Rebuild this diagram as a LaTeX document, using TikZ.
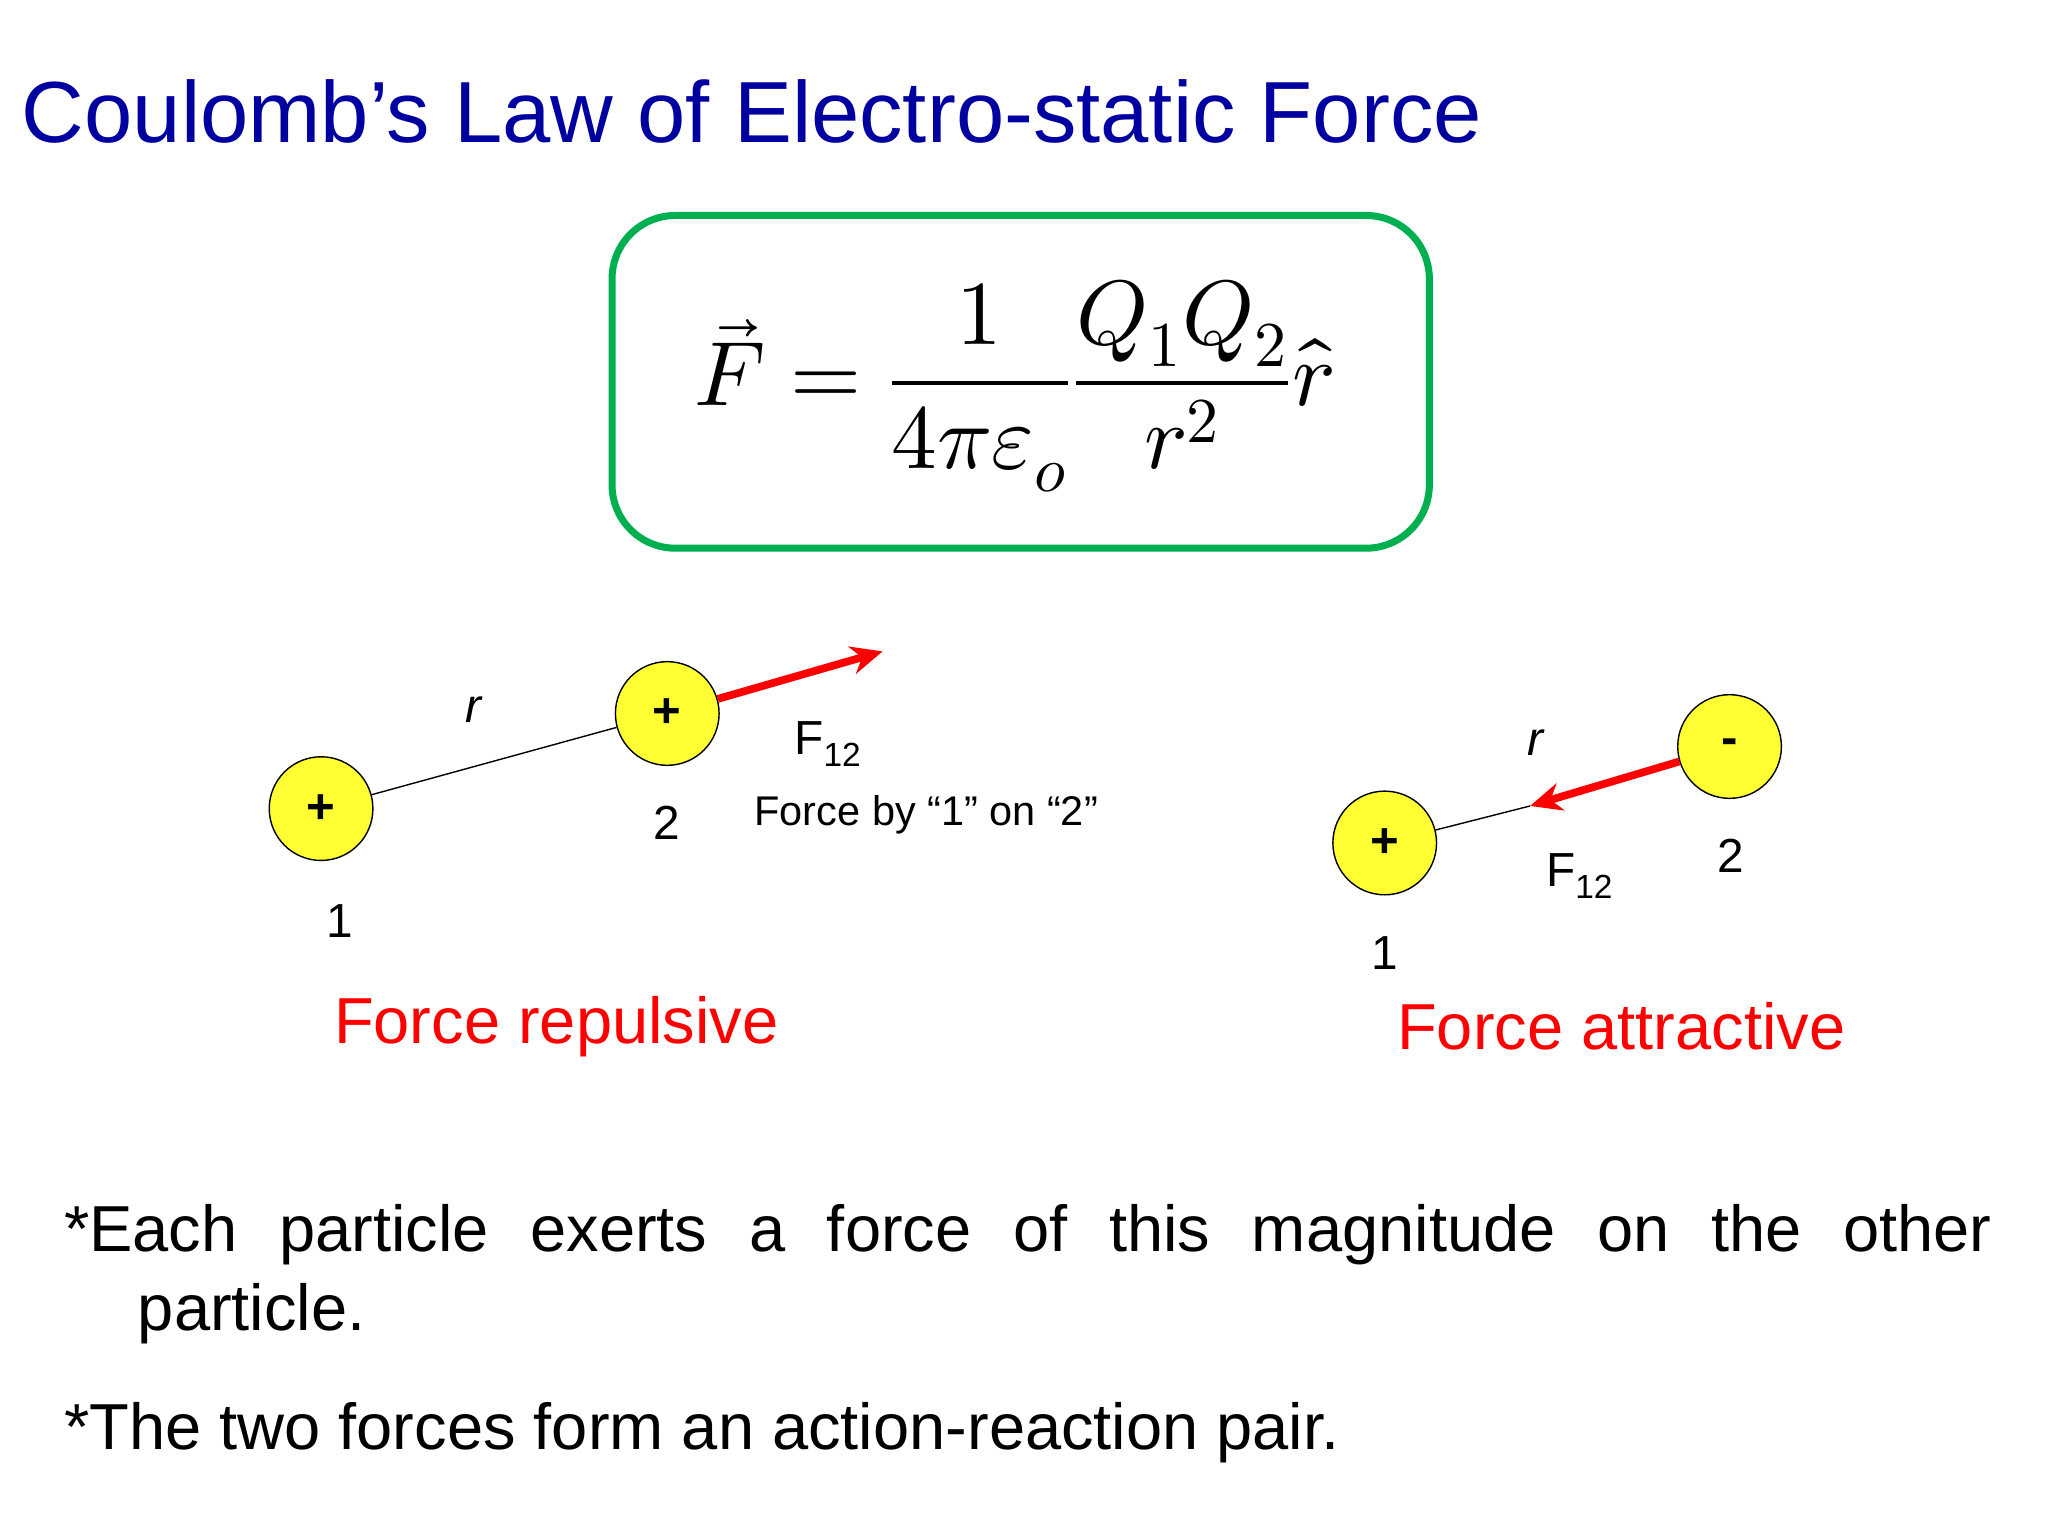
\documentclass[tikz,border=0pt]{standalone}
\usetikzlibrary{arrows.meta}
\usepackage{fontspec}
\setmainfont{Liberation Sans}
\usepackage{unicode-math}
\setmathfont{Latin Modern Math}
\definecolor{ttl}{RGB}{0,0,160}
\definecolor{grn}{RGB}{0,176,80}
\definecolor{yel}{RGB}{255,255,51}
\tikzset{
 chg/.style={circle,draw=black,fill=yel,minimum size=29.5pt,inner sep=0pt,font=\fontsize{14}{14}\selectfont\bfseries},
 lbl/.style={font=\fontsize{13.6}{14}\selectfont,inner sep=0pt},
 redtxt/.style={text=red,font=\fontsize{18.5}{20}\selectfont,inner sep=0pt},
 farrow/.style={red,line width=2.2pt,-{Stealth[length=9pt,width=8pt]}}
}
\begin{document}
\begin{tikzpicture}[x=0.01321cm,y=-0.01321cm]
\useasboundingbox (0,0) rectangle (1550,1162.7);
\node[anchor=base west,text=ttl,font=\fontsize{24.7}{30}\selectfont,inner sep=0pt] (title) at (16,108) {Coulomb’s Law of Electro-static Force};
\node[draw=grn,line width=2pt,rounded corners=18pt,minimum width=619*0.3757pt,minimum height=252*0.3757pt] (box) at (772.5,289) {};
\node[font=\fontsize{26}{30}\selectfont] (eq) at (768,292) {$\vec F=\dfrac{1}{4\pi\varepsilon_o}\dfrac{Q_1Q_2}{r^2}\hat r$};
% left
\node[chg] (a1) at (243,612) {+};
\node[chg] (a2) at (505,540) {+};
\draw (a1) -- (a2);
\coordinate (ae) at (668,493);
\draw[farrow] (a2) -- (ae);
\node[lbl,font=\fontsize{13.6}{14}\selectfont\itshape] (ar) at (358,537) {r};
\node[lbl] (aF) at (627,563) {F\textsubscript{12}};
\node[lbl,font=\fontsize{11.8}{14}\selectfont] (aby) at (701,617) {Force by “1” on “2”};
\node[lbl] (an2) at (505,623) {2};
\node[lbl] (an1) at (257,697) {1};
\node[redtxt] (rep) at (421,777) {Force repulsive};
% right
\node[chg] (b1) at (1048,638) {+};
\node[chg] (b2) at (1309,565) {-};
\coordinate (bm) at (1158,610);
\draw (b1) -- (bm);
\draw[farrow] (b2) -- (bm);
\node[lbl,font=\fontsize{13.6}{14}\selectfont\itshape] (br) at (1162,562) {r};
\node[lbl] (bF) at (1196,663) {F\textsubscript{12}};
\node[lbl] (bn2) at (1310,648) {2};
\node[lbl] (bn1) at (1048,721) {1};
\node[redtxt] (att) at (1227,777) {Force attractive};
% text
\node[anchor=north west,inner sep=0pt,font=\fontsize{18.5}{22.5}\selectfont,align=left] (p1) at (48,911)
 {\hbox to 548.5pt{*Each\hfill particle\hfill exerts\hfill a\hfill force\hfill of\hfill this\hfill magnitude\hfill on\hfill the\hfill other}\\\hspace*{21pt}particle.};
\node[anchor=base west,inner sep=0pt,font=\fontsize{18.5}{22.5}\selectfont] (p2) at (48,1097) {*The two forces form an action-reaction pair.};
\end{tikzpicture}
\end{document}
